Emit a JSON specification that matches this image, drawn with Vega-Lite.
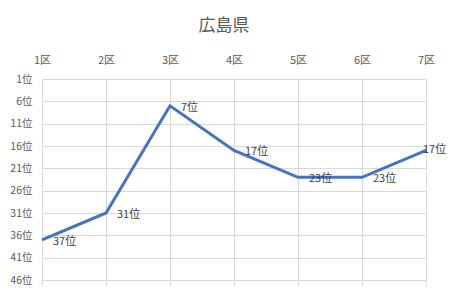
{
  "$schema": "https://vega.github.io/schema/vega-lite/v6.json",
  "autosize": "none",
  "width": 384,
  "height": 201,
  "padding": {"left": 42, "top": 79, "right": 26, "bottom": 21},
  "background": "white",
  "config": {
    "font": "Noto Sans CJK JP",
    "view": {"stroke": null},
    "axis": {"labelColor": "#595959", "labelFontSize": 11, "gridColor": "#d9d9d9", "gridWidth": 1, "domain": false, "ticks": false, "tickSize": 0, "labelFont": "Noto Sans CJK JP"}
  },
  "title": {"text": "広島県", "fontSize": 17, "fontWeight": "normal", "color": "#595959", "anchor": "middle", "frame": "group", "dx": -10, "offset": 19, "font": "Noto Sans CJK JP"},
  "data": {"values": [
    {"district": "1区", "rank": 37, "label": "37位"},
    {"district": "2区", "rank": 31, "label": "31位"},
    {"district": "3区", "rank": 7, "label": "7位"},
    {"district": "4区", "rank": 17, "label": "17位"},
    {"district": "5区", "rank": 23, "label": "23位"},
    {"district": "6区", "rank": 23, "label": "23位"},
    {"district": "7区", "rank": 17, "label": "17位"}
  ]},
  "encoding": {
    "y": {"field": "rank", "type": "quantitative", "scale": {"domain": [1, 46], "reverse": true, "nice": false, "zero": false},
      "axis": {"title": null, "values": [1, 6, 11, 16, 21, 26, 31, 36, 41, 46], "labelExpr": "datum.value + '位'", "labelPadding": 10, "labelFontSize": 10.5, "grid": true}}
  },
  "layer": [
    {
      "mark": {"type": "line", "color": "#4472C4", "strokeWidth": 3},
      "encoding": {
        "x": {"field": "district", "type": "ordinal", "sort": null, "scale": {"type": "point", "padding": 0},
          "axis": {"orient": "top", "title": null, "labelAngle": 0, "labelPadding": 14, "grid": true}}
      }
    },
    {
      "transform": [{"filter": "datum.district != '7区'"}],
      "mark": {"type": "text", "align": "left", "baseline": "middle", "dx": 11, "dy": 2, "fontSize": 11, "color": "#404040"},
      "encoding": {
        "x": {"field": "district", "type": "ordinal", "sort": null,
          "axis": {"orient": "bottom", "title": null, "labels": false, "grid": false, "ticks": true, "tickSize": 5, "tickColor": "#d9d9d9"}},
        "text": {"field": "label", "type": "nominal"}
      }
    },
    {
      "transform": [{"filter": "datum.district == '7区'"}],
      "mark": {"type": "text", "align": "left", "baseline": "middle", "dx": -3, "dy": 0, "fontSize": 11, "color": "#404040"},
      "encoding": {
        "x": {"field": "district", "type": "ordinal", "sort": null, "axis": null},
        "text": {"field": "label", "type": "nominal"}
      }
    }
  ],
  "resolve": {"axis": {"x": "independent"}}
}
